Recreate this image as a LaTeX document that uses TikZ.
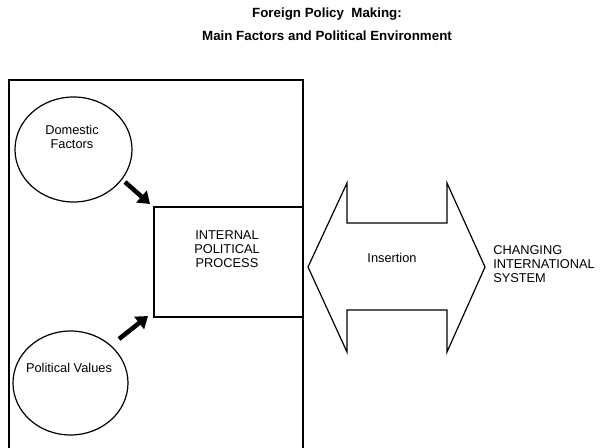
\documentclass[tikz,border=0pt]{standalone}
\usepackage{fontspec}
\setmainfont{Liberation Sans}
\usetikzlibrary{shapes.geometric,arrows.meta}
\tikzset{
  ln/.style={line width=0.9pt, black},
  lbl/.style={font=\fontsize{9.6}{10.6}\selectfont, align=center, inner sep=0pt},
  ttl/.style={font=\fontsize{10}{12}\selectfont\bfseries, inner sep=0pt},
  bigarrow/.style={line width=3.4pt, -{Triangle[length=8.5pt,width=11.5pt]}},
}
\begin{document}
\begin{tikzpicture}[x=0.75pt,y=-0.75pt]
\useasboundingbox (0,0) rectangle (600,448);
\fill[white] (0,0) rectangle (600,448);
% title
\node[ttl] (t1) at (327,14) {Foreign Policy\ \ Making:};
\node[ttl] (t2) at (327,36) {Main Factors and Political\ Environment};
% outer frame (open at bottom)
\draw[ln] (9,448) -- (9,80) -- (303,80) -- (303,448);
% internal process box
\node[draw, ln, rectangle, minimum width=111.75pt, minimum height=82.5pt, inner sep=0pt] (ipp) at (228.5,262) {};
\node[lbl] (ipptxt) at (227,249) {INTERNAL\\POLITICAL\\PROCESS};
% ellipses
\node[draw, ln, ellipse, minimum width=87.75pt, minimum height=78.75pt, inner sep=0pt] (dom) at (73.5,149.5) {};
\node[lbl] (domtxt) at (72,137) {Domestic\\Factors};
\node[draw, ln, ellipse, minimum width=86.25pt, minimum height=78pt, inner sep=0pt] (pol) at (70.5,383) {};
\node[lbl] (poltxt) at (69,368) {Political Values};
% thick arrows
\coordinate (d1) at (125,182);
\coordinate (d2) at (150,204);
\coordinate (p1) at (119,339);
\coordinate (p2) at (148,316);
\draw[bigarrow] (d1) -- (d2);
\draw[bigarrow] (p1) -- (p2);
% double arrow
\draw[ln, line join=miter] (308,267) -- (347,183) -- (347,223) -- (447,223) -- (447,183) -- (485,267)
  -- (447,352) -- (447,310) -- (347,310) -- (347,352) -- cycle;
\node[lbl] (ins) at (392,258) {Insertion};
\node[lbl, align=left, anchor=west] (cis) at (493,264) {CHANGING\\INTERNATIONAL\\SYSTEM};
\end{tikzpicture}
\end{document}
